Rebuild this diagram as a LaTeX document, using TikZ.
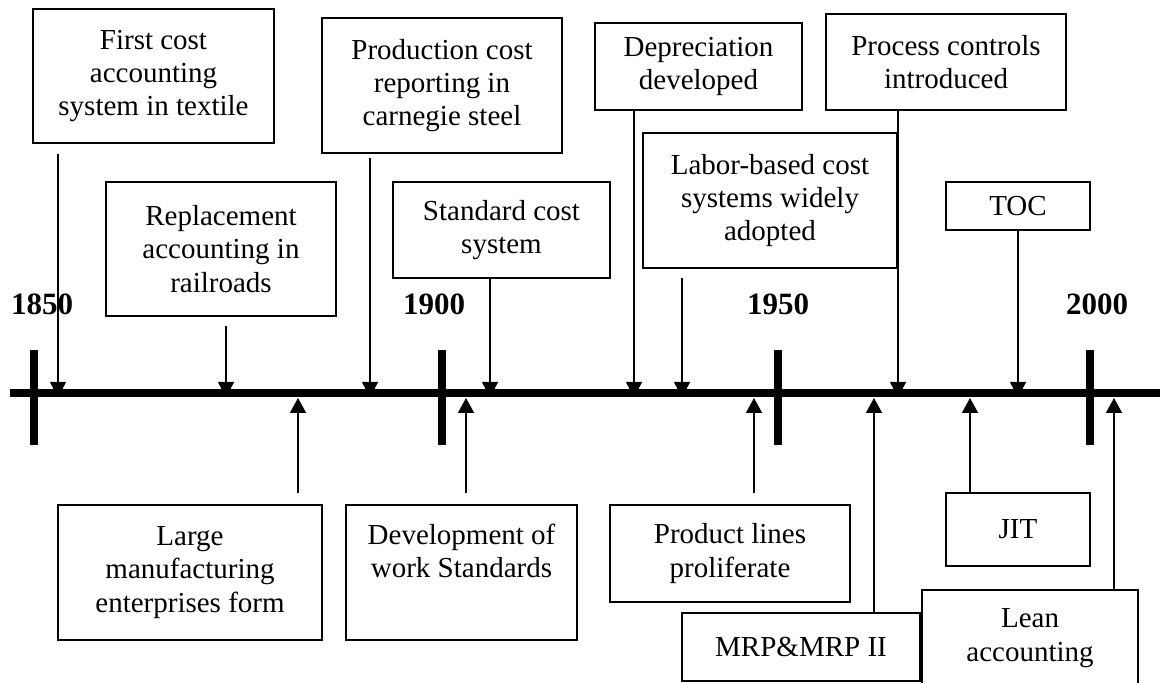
\documentclass[tikz,border=0pt]{standalone}
\usepackage{fontspec}
\setmainfont{Liberation Serif}
\usetikzlibrary{arrows.meta}
\begin{document}
\begin{tikzpicture}[x=0.5pt,y=-0.5pt,
  evbox/.style={draw, line width=1pt, fill=white, align=center, inner sep=0pt,
    font=\fontsize{14.5}{16.7}\selectfont},
  year/.style={font=\bfseries\fontsize{15.5}{18}\selectfont, inner sep=0pt, anchor=base},
  axisline/.style={line width=4pt},
  tickmark/.style={line width=4pt},
  evarrow/.style={line width=0.8pt, -{Triangle[length=7.5pt,width=8pt]}},
]
\useasboundingbox (0,0) rectangle (1160,683);

% time axis and decade ticks
\coordinate (axL) at (10,393);
\coordinate (axR) at (1160,393);
\draw[axisline] (axL) -- (axR);
\foreach \tx/\nm in {34/t1850, 442/t1900, 778/t1950, 1090/t2000}{
  \coordinate (\nm-top) at (\tx,350);
  \coordinate (\nm-bot) at (\tx,445);
  \draw[tickmark] (\nm-top) -- (\nm-bot);
}
\node[year] (y1850) at (42,315) {1850};
\node[year] (y1900) at (434,315) {1900};
\node[year] (y1950) at (778,315) {1950};
\node[year] (y2000) at (1097,315) {2000};

% events above the axis
\node[evbox, minimum width=120.5pt, minimum height=67pt] (first) at (153.5,76)
  {First cost\\accounting\\system in textile};
\node[evbox, minimum width=115pt, minimum height=67pt] (repl) at (221,249)
  {Replacement\\accounting in\\railroads};
\node[evbox, minimum width=120pt, minimum height=67.5pt] (prod) at (442,85.5)
  {Production cost\\reporting in\\carnegie steel};
\node[evbox, minimum width=108.5pt, minimum height=48pt] (std) at (501.5,230)
  {Standard cost\\system};
\node[evbox, minimum width=103.5pt, minimum height=43.5pt] (depr) at (698.5,66.5)
  {Depreciation\\developed};
\node[evbox, minimum width=127pt, minimum height=67.5pt] (labor) at (770,200.5)
  {Labor-based cost\\systems widely\\adopted};
\node[evbox, minimum width=120pt, minimum height=48pt] (proc) at (946,62)
  {Process controls\\introduced};
\node[evbox, minimum width=72pt, minimum height=24pt] (toc) at (1018,206)
  {TOC};

% events below the axis
\node[evbox, minimum width=132pt, minimum height=67.5pt] (large) at (190,572.5)
  {Large\\manufacturing\\enterprises form};
\node[evbox, minimum width=115.5pt, minimum height=67.5pt] (dev) at (461.5,572.5)
  {Development of\\work Standards\\\strut};
\node[evbox, minimum width=120pt, minimum height=48.5pt] (prodl) at (730,553.5)
  {Product lines\\proliferate};
\node[evbox, minimum width=119pt, minimum height=34pt] (mrp) at (801,647)
  {MRP\&MRP II};
\node[evbox, minimum width=72pt, minimum height=36.5pt] (jit) at (1018,529.5)
  {JIT};
\node[evbox, minimum width=108pt, minimum height=48pt] (lean) at (1030,638)
  {Lean\\accounting};

% arrow tips on the axis
\coordinate (p-first) at (58,397);
\coordinate (p-repl)  at (226,397);
\coordinate (p-prod)  at (370,397);
\coordinate (p-std)   at (490,397);
\coordinate (p-depr)  at (634,397);
\coordinate (p-labor) at (682,397);
\coordinate (p-proc)  at (898,397);
\coordinate (p-toc)   at (1018,397);
\coordinate (p-large) at (298,398);
\coordinate (p-dev)   at (466,398);
\coordinate (p-prodl) at (754,398);
\coordinate (p-mrp)   at (874,398);
\coordinate (p-jit)   at (970,398);
\coordinate (p-lean)  at (1114,398);

% connectors from boxes down to the axis
\draw[evarrow, shorten <=5pt]   (first.south -| p-first) -- (p-first);
\draw[evarrow, shorten <=4.5pt] (repl.south -| p-repl)   -- (p-repl);
\draw[evarrow, shorten <=2pt]   (prod.south -| p-prod)   -- (p-prod);
\draw[evarrow]                  (std.south -| p-std)     -- (p-std);
\draw[evarrow]                  (depr.south -| p-depr)   -- (p-depr);
\draw[evarrow, shorten <=4.5pt] (labor.south -| p-labor) -- (p-labor);
\draw[evarrow]                  (proc.south -| p-proc)   -- (p-proc);
\draw[evarrow]                  (toc.south -| p-toc)     -- (p-toc);

% connectors from boxes up to the axis
\draw[evarrow, shorten <=5.5pt] (large.north -| p-large) -- (p-large);
\draw[evarrow, shorten <=5.5pt] (dev.north -| p-dev)     -- (p-dev);
\draw[evarrow, shorten <=5.5pt] (prodl.north -| p-prodl) -- (p-prodl);
\draw[evarrow]                  (mrp.north -| p-mrp)     -- (p-mrp);
\draw[evarrow]                  (jit.north -| p-jit)     -- (p-jit);
\draw[evarrow]                  (lean.north -| p-lean)   -- (p-lean);
\end{tikzpicture}
\end{document}
